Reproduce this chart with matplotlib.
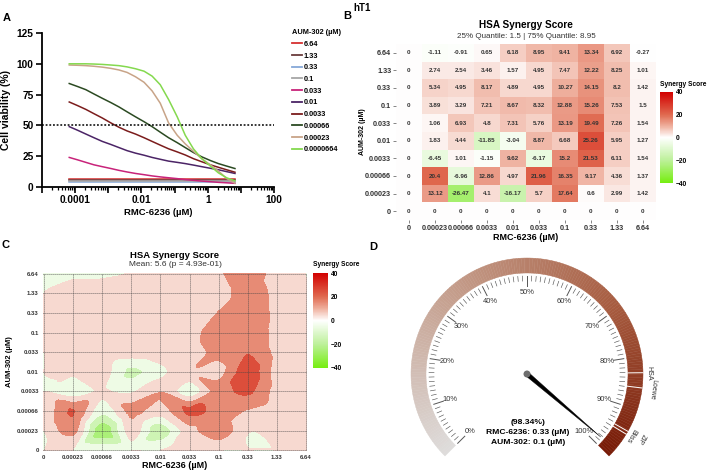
import numpy as np
import matplotlib
matplotlib.use('Agg')
from matplotlib import pyplot as plt
import matplotlib.tri as mtri
from matplotlib.colors import LinearSegmentedColormap, Normalize
from matplotlib.cm import ScalarMappable
from matplotlib.patches import Wedge, Polygon, Circle

plt.rcParams['font.family'] = ['Liberation Sans', 'DejaVu Sans']

# ---------------- data ----------------
# panel A: fitted viability curves, one per AUM-302 dose
rmc_fit = [6.64e-5, 1.2e-4, 2.1e-4, 3.7e-4, 6.6e-4, 1.2e-3, 2.1e-3, 3.7e-3, 6.6e-3, 0.012, 0.021,
           0.037, 0.066, 0.12, 0.21, 0.37, 0.66, 1.2, 2.1, 3.7, 6.64]
aum_labels = ['6.64', '1.33', '0.33', '0.1', '0.033', '0.01', '0.0033', '0.00066', '0.00023', '0.0000664']
aum_colors = ['#D62F2F', '#6A3C3C', '#86A8D8', '#A6A6A6', '#C8237A', '#4B2466',
              '#7B1C1C', '#2B4A22', '#C8A488', '#84D94E']
via_664 = [6.8, 6.8, 6.8, 6.8, 6.8, 6.8, 6.8, 6.8, 6.8, 6.8, 6.8, 6.8, 6.8, 6.8, 6.8, 6.8, 6.8, 6.8, 6.8, 6.8, 6.8]
via_133 = [5.9, 5.9, 5.9, 5.9, 5.9, 5.9, 5.9, 5.9, 5.9, 5.9, 5.9, 5.9, 5.9, 5.9, 5.9, 5.9, 5.9, 5.9, 5.9, 5.9, 5.9]
via_033 = [4.2, 4.2, 4.2, 4.2, 4.2, 4.2, 4.2, 4.2, 4.2, 4.2, 4.2, 4.2, 4.2, 4.2, 4.2, 4.2, 4.2, 4.2, 4.2, 4.2, 4.2]
via_01 = [5.0, 5.0, 5.0, 5.0, 5.0, 5.0, 5.0, 5.0, 5.0, 5.0, 5.0, 5.0, 5.0, 5.0, 5.0, 5.0, 5.0, 5.0, 5.0, 5.0, 5.0]
via_0033 = [24, 22, 20, 18, 16.5, 15, 13.5, 12.2, 11, 10, 9, 8.2, 7.5, 6.8, 6, 5.4, 4.8, 4.3, 3.8, 3.4, 3]
via_001 = [49, 46, 43, 40, 37, 34.5, 32, 29.5, 27.5, 25.8, 24, 22.5, 21, 20, 19, 17.8, 16.5, 15.2, 14, 12.5, 11]
via_00033 = [69, 66, 63, 59.5, 56, 52, 48.5, 45.5, 43, 40, 37, 34, 31, 28.5, 26, 23, 20.5, 18, 16, 14, 12]
via_000066 = [84, 81.5, 79, 75.5, 72, 68.5, 65, 61, 57, 53, 49, 44.5, 40, 36, 32, 28, 24.5, 21.5, 19, 17, 15]
via_000023 = [99, 98.8, 98.5, 98, 97.3, 96.3, 95, 93, 89.5, 85, 78, 68, 52, 42, 35, 29, 23, 18, 13, 7, 3]
via_0000664 = [100, 100, 100, 99.8, 99.5, 99, 98.5, 97.5, 96, 94, 90, 83, 71, 57, 42, 31, 23, 17, 11.5, 7.5, 5]
viability = [via_664, via_133, via_033, via_01, via_0033, via_001, via_00033,
             via_000066, via_000023, via_0000664]

# panel B/C: HSA synergy matrix (rows AUM-302 high->low, cols RMC-6236 low->high)
aum_doses = ['6.64', '1.33', '0.33', '0.1', '0.033', '0.01', '0.0033', '0.00066', '0.00023', '0']
rmc_doses = ['0', '0.00023', '0.00066', '0.0033', '0.01', '0.033', '0.1', '0.33', '1.33', '6.64']
hsa = [
    [-1.11, -0.91, 0.65, 6.18, 8.95, 9.41, 13.34, 6.92, -0.27],
    [2.74, 2.54, 3.46, 1.57, 4.95, 7.47, 12.22, 8.25, 1.01],
    [5.34, 4.95, 8.17, 4.89, 4.95, 10.27, 14.15, 8.2, 1.42],
    [3.89, 3.29, 7.21, 8.67, 8.32, 12.88, 15.26, 7.53, 1.5],
    [1.06, 6.93, 4.8, 7.31, 5.76, 13.19, 19.49, 7.26, 1.54],
    [1.83, 4.44, -11.85, -3.04, 8.87, 6.68, 25.26, 5.95, 1.27],
    [-6.45, 1.01, -1.15, 9.62, -6.17, 15.2, 21.53, 6.11, 1.54],
    [20.4, -6.96, 12.86, 4.97, 21.96, 16.35, 9.17, 4.36, 1.37],
    [13.12, -26.47, 4.1, -16.17, 5.7, 17.64, 0.6, 2.99, 1.42],
]
# zero-dose row / column are 0 in the table
score = np.pad(np.array(hsa), ((0, 1), (1, 0)))

# panel D: gauge
gauge_pct = 98.34
method_marks = {'HSA': 83.1, 'Loewe': 85.9, 'ZIP': 94.3, 'Bliss': 94.9}

# ---------------- figure ----------------
W, H = 708, 471
fig = plt.figure(figsize=(W / 100, H / 100), dpi=100)


def px_axes(x0, y0, x1, y1):
    return fig.add_axes([x0 / W, 1 - y1 / H, (x1 - x0) / W, (y1 - y0) / H])


def ftext(x, y, s, **kw):
    kw.setdefault('ha', 'center')
    kw.setdefault('va', 'center')
    fig.text(x / W, 1 - y / H, s, **kw)


syn_cmap = LinearSegmentedColormap.from_list(
    'syn', [(0.0, '#76EE10'), (0.25, '#BDF09A'), (0.5, '#FFFFFF'),
            (0.625, '#EFB09E'), (0.75, '#E06A50'), (1.0, '#D20000')])
syn_norm = Normalize(-40, 40)

# ---- A ----
axA = px_axes(42, 33, 274, 187)
lines = []
for lab, col, vals in zip(aum_labels, aum_colors, viability):
    ln, = axA.plot(rmc_fit, vals, color=col, lw=1.1)
    lines.append(ln)
axA.axhline(50, color='black', lw=1.1, ls=(0, (1.2, 1.2)))
axA.set_xscale('log')
axA.set_xlim(1e-5, 100)
axA.set_ylim(0, 125)
axA.set_yticks([0, 25, 50, 75, 100, 125])
decades = [1e-5, 1e-4, 1e-3, 1e-2, 1e-1, 1, 10, 100]
axA.set_xticks(decades)
axA.set_xticklabels(['', '0.0001', '', '0.01', '', '1', '', '100'])
axA.xaxis.set_minor_locator(matplotlib.ticker.LogLocator(base=10, subs=np.arange(2, 10), numticks=20))
axA.xaxis.set_minor_formatter(matplotlib.ticker.NullFormatter())
for s in ['top', 'right']:
    axA.spines[s].set_visible(False)
for s in ['left', 'bottom']:
    axA.spines[s].set_linewidth(1.3)
axA.tick_params(which='major', length=4, width=1.2, labelsize=7.3, pad=2)
axA.tick_params(which='minor', length=2, width=0.9)
for t in axA.get_xticklabels() + axA.get_yticklabels():
    t.set_fontweight('bold')
axA.set_ylabel('Cell viability (%)', fontsize=7.5, fontweight='bold', labelpad=4)
axA.set_xlabel('RMC-6236 (µM)', fontsize=6.8, fontweight='bold', labelpad=2)

leg = fig.legend(lines, aum_labels, loc='upper left', bbox_to_anchor=(287 / W, 1 - 24 / H),
                 frameon=False, fontsize=5.3, title='AUM-302 (µM)', title_fontsize=5.3,
                 handlelength=1.3, handletextpad=0.3, labelspacing=0.62, alignment='left',
                 borderpad=0.2)
leg.get_title().set_fontweight('bold')
for t in leg.get_texts():
    t.set_fontweight('bold')
for h in leg.legend_handles:
    h.set_linewidth(1.3)

# ---- B ----
axB = px_axes(396, 44, 656, 220)
axB.imshow(score, cmap=syn_cmap, norm=syn_norm, aspect='auto', interpolation='nearest')
for i in range(score.shape[0]):
    for j in range(score.shape[1]):
        axB.text(j, i, f'{score[i, j]:g}', ha='center', va='center',
                 fontsize=4.5, fontweight='bold', color='#333333')
axB.set_xticks(range(10))
axB.set_xticklabels(rmc_doses)
axB.set_yticks(range(10))
axB.set_yticklabels(aum_doses)
for s in axB.spines.values():
    s.set_visible(False)
axB.tick_params(length=2, width=0.5, color='#555555', labelsize=5.2, pad=1.5, labelcolor='#333333')
for t in axB.get_xticklabels() + axB.get_yticklabels():
    t.set_fontweight('bold')
caxB = px_axes(660, 92, 673, 183)
cbB = fig.colorbar(ScalarMappable(syn_norm, syn_cmap), cax=caxB, ticks=[-40, -20, 0, 20, 40])
cbB.outline.set_visible(False)
caxB.tick_params(length=0, labelsize=4.8, pad=2)
for t in caxB.get_yticklabels():
    t.set_fontweight('bold')
ftext(660, 84, 'Synergy Score', ha='left', fontsize=4.8, fontweight='bold')
ftext(526, 25, 'HSA Synergy Score', fontsize=7.2, fontweight='bold')
ftext(526, 36, '25% Quantile: 1.5 | 75% Quantile: 8.95', fontsize=5.8, color='#333333')
ftext(526, 238, 'RMC-6236 (µM)', fontsize=6.5, fontweight='bold')
ftext(362, 132, 'AUM-302 (µM)', rotation=90, fontsize=5, fontweight='bold')

# ---- C ----
axC = px_axes(43, 273, 307, 451)
gx, gy = np.meshgrid(np.arange(10), np.arange(10))
zc = score[::-1].ravel()
tri = mtri.Triangulation(gx.ravel().astype(float), gy.ravel().astype(float))
interp = mtri.CubicTriInterpolator(tri, zc, kind='geom')
tri_f, z_f = mtri.UniformTriRefiner(tri).refine_field(zc, triinterpolator=interp, subdiv=4)
axC.tricontourf(tri_f, z_f, levels=[-40, -30, -20, -10, -1e-6, 10, 20, 30, 40],
                cmap=syn_cmap, norm=syn_norm, extend='both')
axC.set_xlim(-0.03, 9.03)
axC.set_ylim(-0.03, 9.03)
axC.set_xticks(range(10))
axC.set_xticklabels(rmc_doses)
axC.set_yticks(range(10))
axC.set_yticklabels(aum_doses[::-1])
axC.grid(True, ls=(0, (1, 1.4)), color='#444444', lw=0.6)
axC.set_axisbelow(False)
for s in axC.spines.values():
    s.set_visible(False)
axC.tick_params(length=0, labelsize=4.3, pad=3, labelcolor='#333333')
for t in axC.get_xticklabels() + axC.get_yticklabels():
    t.set_fontweight('bold')
caxC = px_axes(313, 273, 328, 368)
cbC = fig.colorbar(ScalarMappable(syn_norm, syn_cmap), cax=caxC, ticks=[-40, -20, 0, 20, 40])
cbC.outline.set_visible(False)
caxC.tick_params(length=0, labelsize=4.8, pad=2)
for t in caxC.get_yticklabels():
    t.set_fontweight('bold')
ftext(313, 265, 'Synergy Score', ha='left', fontsize=4.8, fontweight='bold')
ftext(175, 255, 'HSA Synergy Score', fontsize=6.8, fontweight='bold')
ftext(175, 265, 'Mean: 5.6 (p = 4.93e-01)', fontsize=6, color='#333333')
ftext(175, 466, 'RMC-6236 (µM)', fontsize=6.5, fontweight='bold')
ftext(10, 362, 'AUM-302 (µM)', rotation=90, fontsize=5.5, fontweight='bold')

# ---- D ----
axD = px_axes(380, 250, 680, 470)
axD.set_xlim(-147, 153)
axD.set_ylim(-96, 124)
axD.set_aspect('equal')
axD.axis('off')
g_cmap = LinearSegmentedColormap.from_list(
    'gauge', [(0, '#DEDCDB'), (0.35, '#C49C8A'), (0.7, '#A65A3E'), (1, '#771A06')])
r_out, band = 116, 15


def ang(p):
    return 225 - 2.7 * p


for p in np.arange(0, 100, 0.5):
    axD.add_patch(Wedge((0, 0), r_out, ang(p + 0.5), ang(p), width=band,
                        facecolor=g_cmap(p / 100), edgecolor=g_cmap(p / 100), lw=0.3))
for name, p in method_marks.items():
    a = np.deg2rad(ang(p))
    axD.plot([(r_out - band) * np.cos(a), r_out * np.cos(a)],
             [(r_out - band) * np.sin(a), r_out * np.sin(a)], color='white', lw=0.7)
label_pos = {'HSA': (122, 83.2), 'Loewe': (127, 86.0), 'ZIP': (131, 94.3), 'Bliss': (121, 94.7)}
for name, (r, p) in label_pos.items():
    a = ang(p)
    axD.text(r * np.cos(np.deg2rad(a)), r * np.sin(np.deg2rad(a)), name, rotation=a - 90,
             rotation_mode='anchor', ha='center', va='center', fontsize=5, color='#333333')
for p in range(0, 101):
    a = np.deg2rad(ang(p))
    r_in = 88 if p % 10 == 0 else 93
    axD.plot([r_in * np.cos(a), 98 * np.cos(a)], [r_in * np.sin(a), 98 * np.sin(a)],
             color='#555555', lw=0.7 if p % 10 == 0 else 0.45)
    if p % 10 == 0:
        axD.text(81 * np.cos(a), 81 * np.sin(a), f'{p}%', ha='center', va='center',
                 fontsize=5.4, color='#333333')
a = np.deg2rad(ang(gauge_pct))
tip = (97 * np.cos(a), 97 * np.sin(a))
perp = (-np.sin(a), np.cos(a))
axD.add_patch(Polygon([(2.2 * perp[0], 2.2 * perp[1]), tip, (-2.2 * perp[0], -2.2 * perp[1])],
                      closed=True, facecolor='black', edgecolor='black', lw=0.3))
axD.add_patch(Circle((0, 0), 3.5, facecolor='#6E6E6E', edgecolor='none', zorder=5))
ftext(528, 422, f'({gauge_pct}%)', fontsize=6.1, fontweight='bold')
ftext(528, 432, 'RMC-6236: 0.33 (µM)', fontsize=6.1, fontweight='bold')
ftext(528, 442, 'AUM-302: 0.1 (µM)', fontsize=6.1, fontweight='bold')

# panel letters
ftext(7, 18, 'A', fontsize=8, fontweight='bold')
ftext(347, 16, 'B', fontsize=8, fontweight='bold')
ftext(362, 8, 'hT1', fontsize=7, fontweight='bold')
ftext(6, 245, 'C', fontsize=8, fontweight='bold')
ftext(373, 247, 'D', fontsize=8, fontweight='bold')

plt.savefig('out.png', dpi=100)
